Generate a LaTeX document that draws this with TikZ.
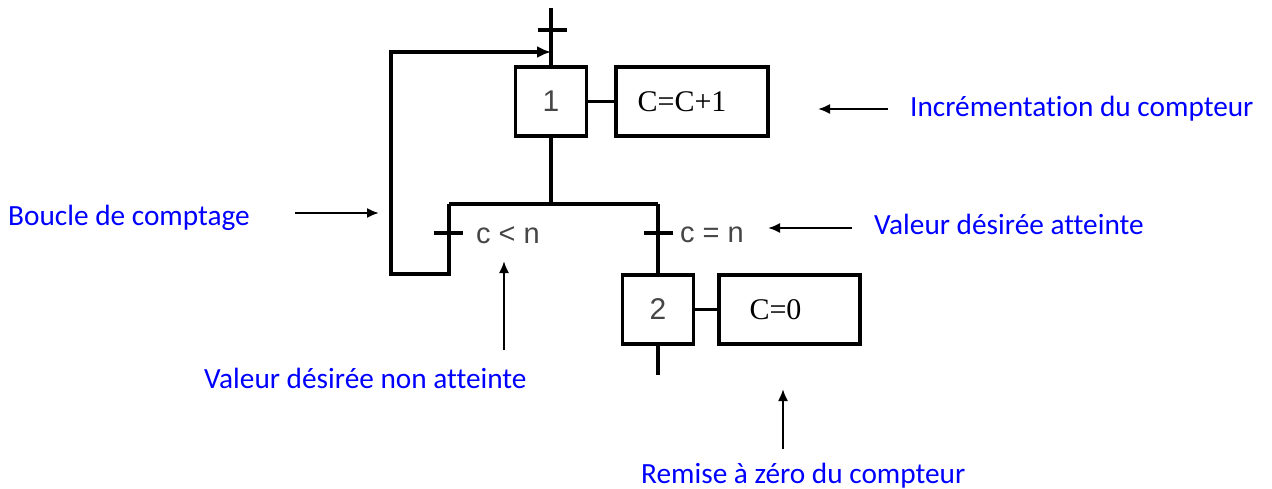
\documentclass[tikz,border=0pt]{standalone}
\usepackage{fontspec}
\setmainfont{Liberation Serif}
\newfontfamily\annfont[Ligatures=NoCommon]{Carlito}
\newfontfamily\sansf{Liberation Sans}
\usetikzlibrary{arrows.meta}
\definecolor{annblue}{RGB}{0,0,255}
\definecolor{lblgray}{RGB}{70,70,70}
\begin{document}
\begin{tikzpicture}[x=1pt,y=-1pt,
  ln/.style={line width=3.5pt, line join=miter},
  tick/.style={line width=4pt},
  etape/.style={draw, line width=3.5pt, minimum width=71pt, minimum height=69pt, inner sep=0pt,
    font=\sansf\fontsize{30}{32}\selectfont, text=lblgray},
  action/.style={draw, line width=3.5pt, minimum height=69pt, inner sep=0pt,
    font=\fontsize{30}{32}\selectfont},
  cond/.style={anchor=west, inner sep=0pt, font=\sansf\fontsize{29}{31}\selectfont, text=lblgray},
  ann/.style={anchor=base west, inner sep=0pt, text=annblue, font=\annfont\fontsize{29.3}{31}\selectfont},
  annarrow/.style={line width=2pt, -{Latex[length=12pt,width=10pt]}},
  looparrow/.style={ln, -{Latex[length=14pt,width=12pt]}}
]
\useasboundingbox (0,0) rectangle (1272,488);

% steps and actions
\node[etape] (e1) at (551,101.5) {1};
\node[action, minimum width=152pt] (a1) at (692,101.5) {\hspace*{-20pt}C=C+1};
\node[etape] (e2) at (658,309.5) {2};
\node[action, minimum width=141pt] (a2) at (789.5,309.5) {\hspace*{-28pt}C=0};

% coordinates
\coordinate (top) at (551,8);
\coordinate (t0) at (552,30);
\coordinate (join) at (551,52);
\coordinate (div1) at (551,204);
\coordinate (divL) at (449,204);
\coordinate (divR) at (658,204);
\coordinate (loopB) at (449,274);
\coordinate (loopC) at (391,274);
\coordinate (loopD) at (391,52);
\coordinate (tL) at (448.5,233);
\coordinate (tR) at (658.5,233);
\coordinate (end2) at (658,375);

% links
\draw[ln] (top) -- (e1.north);
\draw[ln] (e1.east) -- (a1.west);
\draw[ln] (e1.south) -- (div1);
\draw[ln] (divL) -- (divR);
\draw[ln] (divR) -- (e2.north);
\draw[ln] (e2.east) -- (a2.west);
\draw[ln] (e2.south) -- (end2);
\draw[looparrow] (divL) -- (loopB) -- (loopC) -- (loopD) -- (join);

% transitions
\draw[tick] ([xshift=-14.5pt]t0) -- ([xshift=14.5pt]t0);
\draw[tick] ([xshift=-14.5pt]tL) -- ([xshift=14.5pt]tL);
\draw[tick] ([xshift=-14.5pt]tR) -- ([xshift=14.5pt]tR);
\node[cond] (cL) at (476,235) {c < n};
\node[cond] (cR) at (680,235) {c = n};

% annotations
\node[ann] (nInc) at (910,116) {Incrémentation du compteur};
\node[ann] (nBoucle) at (8,225) {Boucle de comptage};
\node[ann] (nAtt) at (874,234) {Valeur désirée atteinte};
\node[ann] (nNon) at (204,388) {Valeur désirée non atteinte};
\node[ann] (nRaz) at (641,483) {Remise à zéro du compteur};

\coordinate (incS) at (888,109);
\coordinate (incE) at (818,109);
\coordinate (bS) at (295,213);
\coordinate (bE) at (379,213);
\coordinate (attS) at (852,228);
\coordinate (attE) at (768,228);
\coordinate (nonS) at (504,350);
\coordinate (nonE) at (504,261);
\coordinate (razS) at (783,449);
\coordinate (razE) at (783,389);

\draw[annarrow] (incS) -- (incE);
\draw[annarrow] (bS) -- (bE);
\draw[annarrow] (attS) -- (attE);
\draw[annarrow] (nonS) -- (nonE);
\draw[annarrow] (razS) -- (razE);
\end{tikzpicture}
\end{document}
